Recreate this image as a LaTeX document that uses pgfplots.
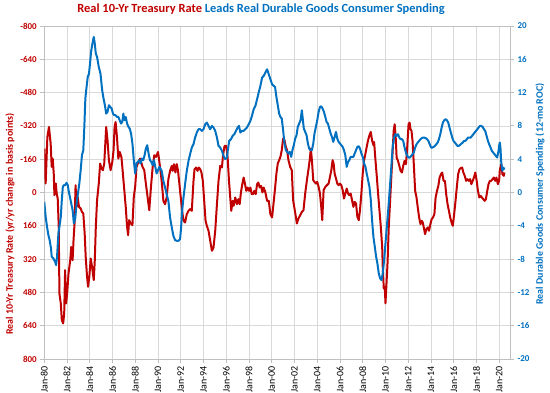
\documentclass[border=0pt]{standalone}
\usepackage{fontspec}
\setmainfont{Carlito}
\usepackage{pgfplots}
\pgfplotsset{compat=1.18}
\definecolor{myred}{HTML}{C00000}
\definecolor{myblue}{HTML}{0070C0}
\definecolor{gridgray}{HTML}{D9D9D9}
\definecolor{axgray}{HTML}{BFBFBF}

\pgfplotstableread{
year val
1980.00 -211
1980.12 -43
1980.27 -267
1980.41 -315
1980.56 -235
1980.65 -123
1980.74 -163
1980.83 -91
1980.89 13
1981.01 -43
1981.09 5
1981.18 29
1981.27 165
1981.33 485
1981.45 533
1981.54 613
1981.66 629
1981.75 581
1981.83 373
1981.92 533
1982.01 485
1982.13 389
1982.28 325
1982.37 261
1982.49 325
1982.57 229
1982.66 149
1982.75 -35
1982.84 69
1982.93 21
1983.05 69
1983.20 77
1983.31 93
1983.43 101
1983.55 197
1983.64 309
1983.76 405
1983.85 453
1983.96 405
1984.08 317
1984.20 357
1984.35 421
1984.44 325
1984.53 165
1984.64 37
1984.79 -43
1984.91 -139
1985.03 -115
1985.15 -107
1985.27 -139
1985.38 -251
1985.44 -315
1985.56 -251
1985.68 -155
1985.83 -107
1985.98 -147
1986.09 -203
1986.18 -315
1986.27 -339
1986.39 -267
1986.51 -163
1986.63 -195
1986.78 -171
1986.86 -123
1987.01 -27
1987.16 69
1987.28 165
1987.37 205
1987.46 133
1987.60 149
1987.75 157
1987.87 21
1987.99 -27
1988.11 -123
1988.28 -147
1988.43 -163
1988.64 -123
1988.79 -107
1988.93 -43
1989.08 21
1989.23 85
1989.38 -27
1989.53 -123
1989.67 -179
1989.82 -171
1990.00 -195
1990.12 -147
1990.32 -56
1990.47 40
1990.62 56
1990.76 24
1990.91 -64
1991.06 -104
1991.21 -128
1991.29 -104
1991.41 -136
1991.53 -96
1991.65 -136
1991.76 -104
1991.88 -40
1992.00 24
1992.12 88
1992.24 136
1992.38 144
1992.53 104
1992.68 88
1992.82 80
1992.97 88
1993.12 -56
1993.21 -112
1993.35 -120
1993.47 -104
1993.59 -120
1993.71 -112
1993.82 -96
1993.94 -56
1994.06 40
1994.18 136
1994.29 160
1994.44 184
1994.59 232
1994.74 280
1994.88 264
1995.03 184
1995.18 56
1995.32 -56
1995.47 -128
1995.62 -120
1995.71 -176
1995.85 -224
1996.00 -224
1996.12 -168
1996.24 -56
1996.35 24
1996.44 88
1996.56 40
1996.65 64
1996.79 24
1996.94 56
1997.06 32
1997.18 56
1997.29 0
1997.41 -40
1997.53 -72
1997.65 -40
1997.76 -8
1997.88 -24
1998.00 -8
1998.12 -24
1998.24 8
1998.35 8
1998.47 -8
1998.59 8
1998.71 -40
1998.82 -48
1998.94 -24
1999.06 -32
1999.18 0
1999.29 -24
1999.44 0
1999.59 40
1999.74 40
1999.88 104
2000.03 120
2000.18 40
2000.29 -19
2000.41 -91
2000.53 -139
2000.65 -155
2000.76 -171
2000.88 -203
2001.00 -259
2001.12 -251
2001.24 -219
2001.35 -203
2001.47 -155
2001.62 -123
2001.76 -107
2001.88 37
2002.00 77
2002.12 117
2002.21 149
2002.35 125
2002.50 109
2002.65 93
2002.79 85
2002.94 5
2003.09 -59
2003.24 -115
2003.35 -163
2003.44 -211
2003.53 -155
2003.65 -59
2003.76 -51
2003.88 -43
2004.00 -51
2004.12 -27
2004.24 5
2004.35 69
2004.44 133
2004.56 -11
2004.71 -27
2004.85 -35
2005.00 -43
2005.12 -75
2005.24 -107
2005.35 -155
2005.44 -139
2005.53 -91
2005.65 -67
2005.76 -43
2005.88 -35
2006.00 -43
2006.12 -35
2006.24 -11
2006.35 29
2006.47 5
2006.59 -19
2006.71 5
2006.82 13
2006.94 5
2007.06 37
2007.18 69
2007.29 45
2007.41 53
2007.53 117
2007.65 133
2007.76 85
2007.88 5
2008.00 -91
2008.12 -155
2008.24 -187
2008.35 -219
2008.47 -251
2008.59 -275
2008.71 -291
2008.82 -251
2008.94 -227
2009.00 -243
2009.12 -155
2009.24 -75
2009.35 5
2009.47 85
2009.59 165
2009.71 261
2009.76 357
2009.85 461
2009.94 453
2010.00 533
2010.06 469
2010.18 341
2010.29 165
2010.44 5
2010.59 -155
2010.72 -296
2010.81 -328
2010.90 -264
2010.98 -168
2011.10 -152
2011.22 -128
2011.33 -104
2011.45 -96
2011.56 -128
2011.68 -152
2011.80 -136
2011.91 -216
2012.03 -328
2012.12 -336
2012.20 -304
2012.29 -296
2012.38 -248
2012.49 -136
2012.61 -8
2012.73 24
2012.84 72
2012.96 120
2013.08 152
2013.19 136
2013.28 144
2013.37 168
2013.48 200
2013.60 176
2013.72 168
2013.83 184
2013.95 152
2014.06 128
2014.18 120
2014.30 104
2014.41 24
2014.53 -8
2014.65 -32
2014.76 -72
2014.88 -88
2014.99 -96
2015.11 -56
2015.23 -56
2015.34 8
2015.46 56
2015.58 88
2015.69 120
2015.81 144
2015.92 160
2016.04 104
2016.16 40
2016.27 -24
2016.39 -88
2016.51 -112
2016.62 -117
2016.74 -120
2016.85 -96
2016.97 -80
2017.09 -56
2017.20 -64
2017.32 -56
2017.44 -64
2017.55 -40
2017.67 -56
2017.78 -72
2017.90 -96
2018.02 -56
2018.13 -8
2018.25 24
2018.37 16
2018.48 24
2018.60 32
2018.72 40
2018.83 32
2018.95 -8
2019.06 -40
2019.18 -56
2019.30 -56
2019.41 -64
2019.53 -72
2019.65 -56
2019.76 -72
2019.88 -40
2019.99 -56
2020.05 -104
2020.17 -136
2020.23 -120
2020.28 -88
2020.40 -80
2020.46 -96
}\treasury

\pgfplotstableread{
year val
1980.00 -1.12
1980.12 -2.92
1980.24 -4.12
1980.36 -5.12
1980.47 -5.72
1980.59 -6.72
1980.65 -7.72
1980.80 -7.92
1980.95 -8.32
1981.04 -8.72
1981.12 -7.72
1981.24 -4.92
1981.33 -4.12
1981.45 -2.92
1981.54 -0.92
1981.63 0.68
1981.72 0.88
1981.83 0.88
1981.95 1.16
1982.07 0.88
1982.13 0.28
1982.25 -0.52
1982.37 -1.32
1982.49 -2.12
1982.60 -3.72
1982.72 -3.12
1982.84 -1.32
1982.96 -0.12
1983.08 1.08
1983.20 2.68
1983.31 4.48
1983.43 5.08
1983.52 7.88
1983.61 11.28
1983.70 12.48
1983.82 13.88
1983.93 14.28
1984.02 15.48
1984.11 16.88
1984.23 17.88
1984.35 18.68
1984.44 17.88
1984.53 16.68
1984.64 16.28
1984.79 15.08
1984.94 14.28
1985.09 12.28
1985.21 11.28
1985.33 10.48
1985.44 9.48
1985.56 9.68
1985.68 10.48
1985.80 10.28
1985.92 10.08
1986.04 9.48
1986.15 9.28
1986.27 9.28
1986.39 9.08
1986.51 9.08
1986.63 8.68
1986.75 8.28
1986.86 8.48
1986.95 9.48
1987.04 8.68
1987.16 9.08
1987.28 8.28
1987.40 7.88
1987.51 7.68
1987.63 7.08
1987.75 5.88
1987.87 3.88
1987.99 2.28
1988.11 3.48
1988.22 3.68
1988.34 3.88
1988.46 3.48
1988.58 4.08
1988.70 3.88
1988.82 4.48
1988.93 5.28
1989.05 5.68
1989.17 4.68
1989.29 3.88
1989.41 3.68
1989.53 3.28
1989.64 3.88
1989.76 3.08
1989.88 2.28
1990.00 2.68
1990.12 3.08
1990.32 2.6
1990.47 1.4
1990.62 0.6
1990.76 -0.2
1990.91 -1.0
1991.06 -3.0
1991.21 -4.2
1991.35 -5.2
1991.50 -5.72
1991.65 -5.8
1991.79 -5.8
1991.94 -5.6
1992.03 -4.2
1992.12 -2.2
1992.24 -0.6
1992.38 1.0
1992.53 2.6
1992.68 3.8
1992.82 4.6
1992.97 5.4
1993.12 5.8
1993.26 6.6
1993.41 7.2
1993.56 7.6
1993.71 7.6
1993.85 7.4
1994.00 7.6
1994.15 8.2
1994.29 8.4
1994.44 8.0
1994.59 7.6
1994.74 8.0
1994.88 7.8
1995.03 7.4
1995.18 6.6
1995.32 5.6
1995.47 5.4
1995.62 5.0
1995.76 4.4
1995.91 4.0
1996.06 4.2
1996.15 5.2
1996.26 6.2
1996.41 6.4
1996.56 6.8
1996.71 7.0
1996.85 7.4
1997.00 7.8
1997.12 8.0
1997.24 7.2
1997.38 7.4
1997.53 7.4
1997.68 7.6
1997.82 7.8
1997.97 8.2
1998.12 8.6
1998.26 9.2
1998.41 10.0
1998.56 10.4
1998.71 11.2
1998.85 12.0
1999.00 12.8
1999.15 13.8
1999.29 14.0
1999.44 14.4
1999.59 14.8
1999.74 14.2
1999.88 13.6
2000.03 13.0
2000.18 12.8
2000.29 12.68
2000.41 11.48
2000.53 10.48
2000.65 9.48
2000.76 9.08
2000.88 8.88
2001.00 7.48
2001.12 5.88
2001.24 5.08
2001.35 4.88
2001.47 4.68
2001.59 4.88
2001.71 4.28
2001.82 5.08
2001.94 5.68
2002.06 6.48
2002.18 6.88
2002.29 7.88
2002.41 8.28
2002.53 8.68
2002.65 9.88
2002.74 8.68
2002.82 7.68
2002.94 7.28
2003.06 6.88
2003.18 5.88
2003.29 5.28
2003.41 5.08
2003.53 5.08
2003.65 5.88
2003.76 7.08
2003.88 7.88
2004.00 8.68
2004.12 9.68
2004.24 10.28
2004.35 10.36
2004.47 10.08
2004.59 9.68
2004.71 9.08
2004.82 8.48
2004.94 8.28
2005.06 7.68
2005.18 7.08
2005.29 6.68
2005.41 6.08
2005.53 6.68
2005.65 7.28
2005.76 6.48
2005.88 6.08
2006.00 5.88
2006.12 5.68
2006.24 5.48
2006.35 5.08
2006.47 4.48
2006.59 3.08
2006.71 3.68
2006.82 3.88
2006.94 4.28
2007.06 4.28
2007.18 4.28
2007.29 4.68
2007.41 5.08
2007.53 5.48
2007.65 5.56
2007.76 5.28
2007.88 4.68
2008.00 4.28
2008.12 3.48
2008.24 3.08
2008.35 2.28
2008.47 1.48
2008.59 0.68
2008.71 -0.92
2008.82 -3.32
2008.94 -5.32
2009.06 -6.52
2009.18 -7.72
2009.29 -8.52
2009.41 -9.72
2009.53 -10.32
2009.65 -10.52
2009.76 -9.72
2009.88 -8.12
2010.00 -6.12
2010.12 -4.12
2010.24 -2.12
2010.35 -0.12
2010.47 2.2
2010.55 3.8
2010.63 5.4
2010.75 6.6
2010.87 7.0
2010.98 6.8
2011.10 7.0
2011.22 6.6
2011.33 6.4
2011.45 6.4
2011.56 6.2
2011.68 5.4
2011.80 4.8
2011.91 4.4
2012.03 4.2
2012.15 4.2
2012.26 4.4
2012.38 4.6
2012.49 4.8
2012.61 5.4
2012.73 5.8
2012.84 6.0
2012.96 6.2
2013.08 6.4
2013.19 6.52
2013.31 6.6
2013.42 6.6
2013.54 6.52
2013.66 6.4
2013.77 6.2
2013.89 5.8
2014.01 5.4
2014.12 5.4
2014.24 5.48
2014.35 5.6
2014.47 5.8
2014.59 6.0
2014.70 6.4
2014.82 7.0
2014.94 7.8
2015.05 8.4
2015.17 8.68
2015.28 8.8
2015.40 8.68
2015.52 8.4
2015.63 7.8
2015.75 7.2
2015.87 6.6
2015.98 6.2
2016.10 6.0
2016.22 5.8
2016.33 5.6
2016.45 5.6
2016.56 5.72
2016.68 5.88
2016.80 6.0
2016.91 6.2
2017.03 6.2
2017.15 6.4
2017.26 6.6
2017.38 6.6
2017.49 6.6
2017.61 6.8
2017.73 7.0
2017.84 7.2
2017.96 7.4
2018.08 7.6
2018.19 7.8
2018.31 8.0
2018.42 8.0
2018.54 7.88
2018.66 7.6
2018.77 7.4
2018.89 6.8
2019.01 6.2
2019.12 5.8
2019.24 5.4
2019.35 5.0
2019.47 4.8
2019.59 4.6
2019.70 4.4
2019.82 4.2
2019.94 5.0
2019.99 5.6
2020.05 6.0
2020.11 5.4
2020.17 3.8
2020.23 3.0
2020.28 2.6
2020.34 3.0
2020.40 2.8
2020.46 3.0
}\durable

\pgfplotsset{
  common/.style={
    at={(0bp,0bp)}, anchor=south west,
    scale only axis, width=465.7bp, height=333bp,
    xmin=1980, xmax=2020.95,
    axis line style={axgray, line width=0.8pt},
    tick style={axgray, line width=0.8pt},
    tick align=outside, major tick length=4bp,
    /pgf/number format/assume math mode=true,
  }
}

\begin{document}
\begin{tikzpicture}[x=1bp,y=1bp]
\useasboundingbox (-44.3bp,-34bp) rectangle (505.7bp,359bp);
\begin{axis}[common,
  ymin=-800, ymax=800, y dir=reverse,
  ytick={-800,-640,-480,-320,-160,0,160,320,480,640,800},
  yticklabels={-800,-640,-480,-320,-160,0,160,320,480,640,800},
  xtick={1980,1982,1984,1986,1988,1990,1992,1994,1996,1998,2000,2002,2004,2006,2008,2010,2012,2014,2016,2018,2020},
  xticklabels={Jan-80,Jan-82,Jan-84,Jan-86,Jan-88,Jan-90,Jan-92,Jan-94,Jan-96,Jan-98,Jan-00,Jan-02,Jan-04,Jan-06,Jan-08,Jan-10,Jan-12,Jan-14,Jan-16,Jan-18,Jan-20},
  xticklabel style={rotate=90, anchor=east, font=\fontsize{10}{11}\selectfont, text=black},
  yticklabel style={font=\fontsize{9}{10}\selectfont\bfseries, text=myred},
  grid=major, major grid style={gridgray, line width=0.8pt},
  axis y line*=left, axis x line*=bottom,
]
\addplot[myred, line width=2pt, line join=round] table[x=year,y=val]{\treasury};
\end{axis}
\begin{axis}[common,
  ymin=-20, ymax=20,
  axis y line*=right, axis x line*=top,
  xtick=\empty, xticklabels={},
  ytick={-20,-16,-12,-8,-4,0,4,8,12,16,20},
  yticklabels={-20,-16,-12,-8,-4,0,4,8,12,16,20},
  yticklabel style={font=\fontsize{9}{10}\selectfont\bfseries, text=myblue},
]
\addplot[myblue, line width=2pt, line join=round] table[x=year,y=val]{\durable};
\end{axis}
\node[font=\fontsize{12.5}{14}\selectfont\bfseries] at (216.7bp,350bp)
  {\textcolor{myred}{Real 10-Yr Treasury Rate} \textcolor{myblue}{Leads Real Durable Goods Consumer Spending}};
\node[rotate=90, font=\fontsize{10}{12}\selectfont\bfseries, text=myred] at (-34.3bp,135bp)
  {Real 10-Yr Treasury Rate (yr/yr change in basis points)};
\node[rotate=90, font=\fontsize{10}{12}\selectfont\bfseries, text=myblue] at (495.7bp,165bp)
  {Real Durable Goods Consumer Spending (12-mo ROC)};
\end{tikzpicture}
\end{document}
